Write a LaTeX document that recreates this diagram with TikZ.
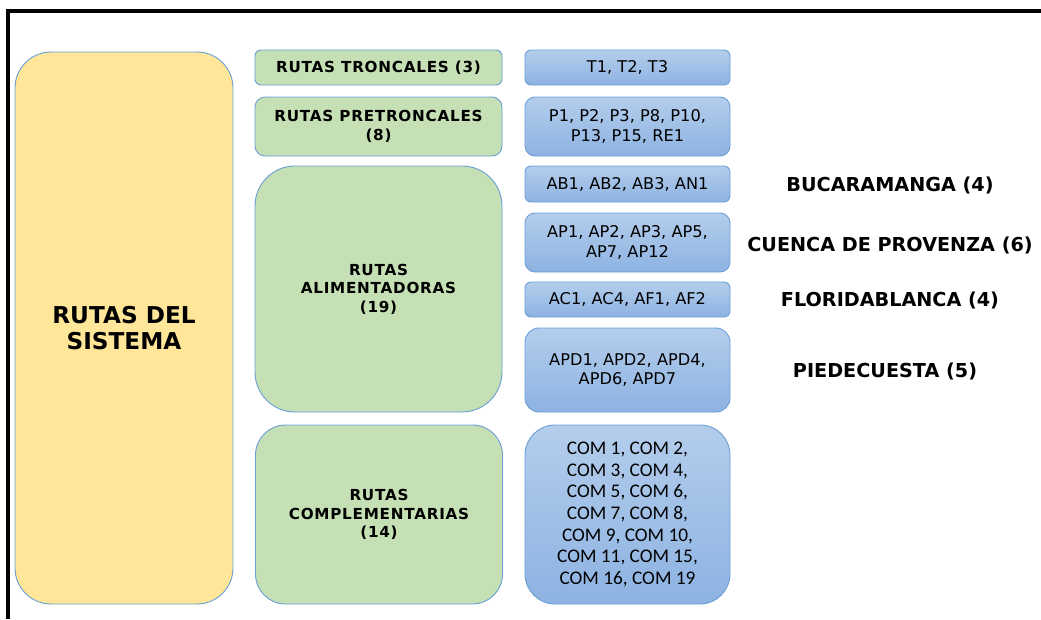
\documentclass[tikz,border=0pt]{standalone}
\usepackage{fontspec}
\setmainfont{DejaVu Sans}
\newfontfamily\comfont{Carlito}
\newfontfamily\grfont[LetterSpace=5]{DejaVu Sans}
\definecolor{yel}{HTML}{FFE699}
\definecolor{grn}{HTML}{C5E0B4}
\definecolor{bluetop}{HTML}{B4CDEC}
\definecolor{bluebot}{HTML}{8DB3E2}
\definecolor{edge}{HTML}{6A9FD6}
\tikzset{
  base/.style={draw=edge, line width=0.9pt, align=center, inner sep=0pt, rectangle},
  greenbox/.style={base, fill=grn, text=black, font=\grfont\bfseries\fontsize{15.2}{18.5}\selectfont},
  bluebox/.style={base, top color=bluetop, bottom color=bluebot, text=black, font=\fontsize{16.2}{19.5}\selectfont},
  sysbox/.style={base, fill=yel, text=black, font=\bfseries\fontsize{23.2}{25.5}\selectfont},
  place/.style={font=\bfseries\fontsize{19.2}{22}\selectfont, text=black, inner sep=0pt},
  frameline/.style={line width=4pt, black}
}
\begin{document}
\begin{tikzpicture}[x=1pt,y=-1pt]
\useasboundingbox (0,0) rectangle (1041,619);
\coordinate (f1) at (8,619);
\coordinate (f2) at (8,11);
\coordinate (f3) at (1041,11);
\draw[frameline] (f1) -- (f2) -- (f3);

\node[sysbox, minimum width=218pt, minimum height=552pt, rounded corners=36pt] (sys) at (124,328) {RUTAS DEL\\SISTEMA};

\node[greenbox, minimum width=247pt, minimum height=35pt, rounded corners=6pt] (gT) at (378.5,67.5) {RUTAS TRONCALES (3)};
\node[greenbox, minimum width=247pt, minimum height=59pt, rounded corners=10pt] (gP) at (378.5,126.5) {RUTAS PRETRONCALES\\(8)};
\node[greenbox, minimum width=247pt, minimum height=246pt, rounded corners=40pt] (gA) at (378.5,289) {RUTAS\\ALIMENTADORAS\\(19)};
\node[greenbox, minimum width=247pt, minimum height=179pt, rounded corners=30pt] (gC) at (379,514.5) {RUTAS\\COMPLEMENTARIAS\\(14)};

\node[bluebox, minimum width=205pt, minimum height=35pt, rounded corners=6pt] (bT) at (627.5,67.5) {T1, T2, T3};
\node[bluebox, minimum width=205pt, minimum height=59pt, rounded corners=10pt] (bP) at (627.5,126.5) {P1, P2, P3, P8, P10,\\P13, P15, RE1};
\node[bluebox, minimum width=205pt, minimum height=36pt, rounded corners=6pt] (bAB) at (627.5,184) {AB1, AB2, AB3, AN1};
\node[bluebox, minimum width=205pt, minimum height=59pt, rounded corners=10pt] (bAP) at (627.5,242.5) {AP1, AP2, AP3, AP5,\\AP7, AP12};
\node[bluebox, minimum width=205pt, minimum height=35pt, rounded corners=6pt] (bAC) at (627.5,299.5) {AC1, AC4, AF1, AF2};
\node[bluebox, minimum width=205pt, minimum height=84pt, rounded corners=14pt] (bAPD) at (627.5,370) {APD1, APD2, APD4,\\APD6, APD7};
\node[bluebox, minimum width=205pt, minimum height=179pt, rounded corners=30pt, font=\comfont\fontsize{19.3}{21.7}\selectfont] (bCOM) at (627.5,514.5) {COM 1, COM 2,\\COM 3, COM 4,\\COM 5, COM 6,\\COM 7, COM 8,\\COM 9, COM 10,\\COM 11, COM 15,\\COM 16, COM 19};

\node[place] (lB) at (890,185) {BUCARAMANGA (4)};
\node[place] (lC) at (890,245) {CUENCA DE PROVENZA (6)};
\node[place] (lF) at (890,300) {FLORIDABLANCA (4)};
\node[place] (lP) at (885,371) {PIEDECUESTA (5)};
\end{tikzpicture}
\end{document}
